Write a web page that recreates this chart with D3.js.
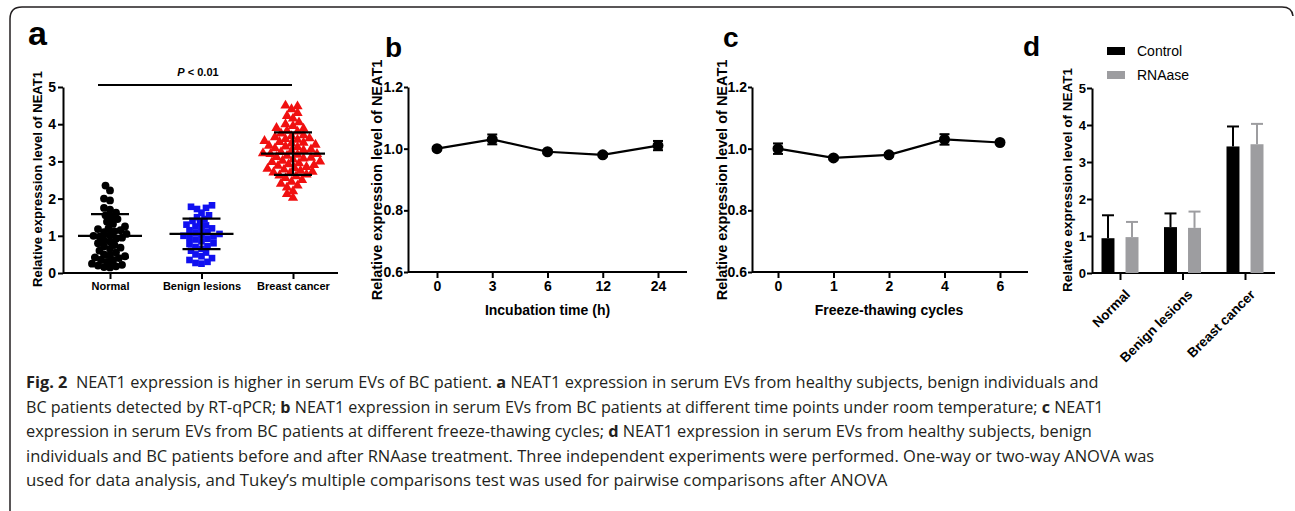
<html>
    <head>
        <title>NEAT1 expression in serum EVs</title>
        <script type="text/javascript" src="https://cdn.jsdelivr.net/npm/d3@7"></script>
        <style type="text/css">
            body { margin: 0; background: white; }
            svg text { font-family: "Liberation Sans", Arial, sans-serif; }
            .axis path, .axis line { stroke: black; stroke-width: 2px; }
            .axis text { font-weight: bold; fill: black; }
            .caption text { font-family: "Open Sans", sans-serif; font-size: 16.5px; fill: #231f20; }
        </style>
    </head>
    <body>
        <div id='chartholder'></div>

        <script type="text/javascript">

            // panel a: individual values
            var groups = ['Normal', 'Benign lesions', 'Breast cancer'];
            var normalValues = [2.35, 2.22, 2.0, 1.95, 1.75, 1.7, 1.62, 1.55, 1.5, 1.45, 1.38, 1.32, 1.25, 1.2, 1.18,
                1.15, 1.12, 1.1, 1.05, 1.02, 1.0, 0.98, 0.95, 0.92, 0.88, 0.85, 0.8, 0.75, 0.72, 0.68, 0.65, 0.6,
                0.55, 0.5, 0.48, 0.45, 0.42, 0.4, 0.35, 0.32, 0.3, 0.25, 0.22, 0.2, 0.18, 0.16, 0.15];
            var benignValues = [1.82, 1.78, 1.75, 1.72, 1.62, 1.55, 1.5, 1.45, 1.4, 1.35, 1.3, 1.28, 1.25, 1.2, 1.18,
                1.15, 1.1, 1.08, 1.05, 1.02, 1.0, 0.98, 0.95, 0.92, 0.9, 0.85, 0.8, 0.78, 0.72, 0.7, 0.65, 0.6,
                0.55, 0.5, 0.45, 0.4, 0.35, 0.3, 0.27, 0.25];
            var cancerValues = [4.5, 4.48, 4.4, 4.3, 4.22, 4.15, 4.05, 4.0, 3.95, 3.9, 3.88, 3.82, 3.8, 3.75, 3.7,
                3.68, 3.65, 3.62, 3.6, 3.58, 3.55, 3.52, 3.5, 3.48, 3.45, 3.42, 3.4, 3.38, 3.35, 3.32, 3.3, 3.28,
                3.25, 3.22, 3.2, 3.2, 3.18, 3.15, 3.12, 3.1, 3.08, 3.05, 3.02, 3.0, 2.98, 2.95, 2.92, 2.9, 2.88,
                2.85, 2.82, 2.8, 2.78, 2.75, 2.72, 2.7, 2.68, 2.65, 2.62, 2.6, 2.55, 2.5, 2.45, 2.4, 2.35, 2.3,
                2.2, 2.12, 2.02];
            var groupMeans = [1.0, 1.05, 3.21];
            var groupSD = [0.58, 0.41, 0.57];
            var groupColors = ['black', '#1010f0', '#f01010'];

            // panel b: incubation time
            var incubationHours = ['0', '3', '6', '12', '24'];
            var incubationMeans = [1.00, 1.03, 0.99, 0.98, 1.01];
            var incubationErr = [0.005, 0.016, 0.005, 0.005, 0.015];

            // panel c: freeze-thawing cycles
            var freezeCycles = ['0', '1', '2', '4', '6'];
            var freezeMeans = [1.00, 0.97, 0.98, 1.03, 1.02];
            var freezeErr = [0.017, 0.005, 0.005, 0.017, 0.005];

            // panel d: control vs RNAase
            var treatments = ['Control', 'RNAase'];
            var controlMeans = [0.94, 1.24, 3.42];
            var controlErr = [0.62, 0.37, 0.54];
            var rnaaseMeans = [0.97, 1.22, 3.48];
            var rnaaseErr = [0.41, 0.44, 0.55];

            var captionLines = [
                [['Fig. 2', true], ['  NEAT1 expression is higher in serum EVs of BC patient. ', false], ['a', true], [' NEAT1 expression in serum EVs from healthy subjects, benign individuals and', false]],
                [['BC patients detected by RT-qPCR; ', false], ['b', true], [' NEAT1 expression in serum EVs from BC patients at different time points under room temperature; ', false], ['c', true], [' NEAT1', false]],
                [['expression in serum EVs from BC patients at different freeze-thawing cycles; ', false], ['d', true], [' NEAT1 expression in serum EVs from healthy subjects, benign', false]],
                [['individuals and BC patients before and after RNAase treatment. Three independent experiments were performed. One-way or two-way ANOVA was', false]],
                [['used for data analysis, and Tukey\u2019s multiple comparisons test was used for pairwise comparisons after ANOVA', false]]
            ];
            var captionEnds = [1100, 1105, 1093, 1155, 888];

            var yTitle = 'Relative expression level of NEAT1';

            var svg = d3.select('#chartholder').append('svg')
                .attr('width', 1295)
                .attr('height', 511);

            // frame with rounded top corners
            svg.append('path')
                .attr('d', 'M10,511 L10,19 Q10,7 22,7 L1282,7 Q1292,7 1293,16')
                .attr('fill', 'none')
                .attr('stroke', '#231f20')
                .attr('stroke-width', 1.5);

            function panelLetter(x, y, t, size) {
                svg.append('text').attr('x', x).attr('y', y)
                    .style('font-size', size + 'px').style('font-weight', 'bold')
                    .text(t);
            }

            function rotatedTitle(x, y, size) {
                svg.append('text')
                    .attr('transform', 'translate(' + x + ',' + y + ') rotate(-90)')
                    .attr('text-anchor', 'middle')
                    .style('font-size', size + 'px').style('font-weight', 'bold')
                    .text(yTitle);
            }

            // simple deterministic swarm: place each value at the smallest offset without collision
            function swarm(values, yScale, minDist) {
                var placed = [];
                values.slice().sort(function(a, b) { return a - b; }).forEach(function(v) {
                    var y = yScale(v);
                    for (var k = 0; k < 200; k++) {
                        var dx = (k % 2 === 0 ? 1 : -1) * Math.ceil(k / 2) * 1.5;
                        var ok = placed.every(function(p) {
                            return Math.hypot(p.dx - dx, p.y - y) >= minDist;
                        });
                        if (ok) { placed.push({v: v, y: y, dx: dx}); break; }
                    }
                });
                return placed;
            }

            // ---------- panel a ----------
            panelLetter(28, 45, 'a', 34);
            rotatedTitle(42, 179, 13);

            var xA = d3.scalePoint().domain(groups).range([110, 293]);
            var yA = d3.scaleLinear().domain([0, 5]).range([273, 87]);

            svg.append('g').attr('class', 'axis')
                .attr('transform', 'translate(63,0)')
                .call(d3.axisLeft(yA).ticks(5).tickSize(5).tickPadding(2).tickSizeOuter(0))
                .selectAll('text').style('font-size', '14px');
            var axA = svg.append('g').attr('class', 'axis')
                .attr('transform', 'translate(0,273)')
                .call(d3.axisBottom(xA).tickSize(6).tickSizeOuter(0));
            axA.select('.domain').attr('d', 'M63,0H338');
            axA.selectAll('text').style('font-size', '11px');

            var symbolTypes = [d3.symbolCircle, d3.symbolSquare, d3.symbolTriangle];
            var symbolSizes = [48, 44, 46];
            var swarmDist = [5.8, 5.8, 6.4];
            [normalValues, benignValues, cancerValues].forEach(function(vals, i) {
                var pts = swarm(vals, yA, swarmDist[i]);
                svg.append('g').selectAll('path')
                    .data(pts)
                    .enter().append('path')
                        .attr('d', d3.symbol().type(symbolTypes[i]).size(symbolSizes[i]))
                        .attr('transform', function(d) { return 'translate(' + (xA(groups[i]) + d.dx) + ',' + d.y + ')'; })
                        .attr('fill', groupColors[i]);
            });

            groups.forEach(function(g, i) {
                var cx = xA(g), m = groupMeans[i], s = groupSD[i];
                var eg = svg.append('g').attr('stroke', 'black').attr('stroke-width', 2.2);
                eg.append('line').attr('x1', cx).attr('x2', cx).attr('y1', yA(m - s)).attr('y2', yA(m + s));
                eg.append('line').attr('x1', cx - 32).attr('x2', cx + 32).attr('y1', yA(m)).attr('y2', yA(m));
                [m - s, m + s].forEach(function(v) {
                    eg.append('line').attr('x1', cx - 19).attr('x2', cx + 19).attr('y1', yA(v)).attr('y2', yA(v));
                });
            });

            svg.append('line').attr('x1', 98).attr('x2', 292).attr('y1', 85).attr('y2', 85)
                .attr('stroke', 'black').attr('stroke-width', 2);
            var pText = svg.append('text').attr('x', 198).attr('y', 76).attr('text-anchor', 'middle')
                .style('font-size', '11px').style('font-weight', 'bold');
            pText.append('tspan').style('font-style', 'italic').text('P');
            pText.append('tspan').text(' < 0.01');

            // ---------- panels b and c ----------
            function linePanel(opts) {
                var x = d3.scalePoint().domain(opts.cats).range(opts.xRange);
                var y = d3.scaleLinear().domain([0.6, 1.2]).range([272, 87]);

                svg.append('g').attr('class', 'axis')
                    .attr('transform', 'translate(' + opts.axisX + ',0)')
                    .call(d3.axisLeft(y).tickValues([0.6, 0.8, 1.0, 1.2]).tickFormat(d3.format('.1f'))
                        .tickSize(4).tickPadding(1).tickSizeOuter(0))
                    .selectAll('text').style('font-size', '14px');
                var ax = svg.append('g').attr('class', 'axis')
                    .attr('transform', 'translate(0,272)')
                    .call(d3.axisBottom(x).tickSize(6).tickSizeOuter(0));
                ax.select('.domain').attr('d', 'M' + opts.axisX + ',0H' + opts.axisEnd);
                ax.selectAll('text').style('font-size', '14px');

                var pts = opts.cats.map(function(c, i) { return {c: c, m: opts.means[i], e: opts.err[i]}; });

                svg.append('path').datum(pts)
                    .attr('d', d3.line().x(function(d) { return x(d.c); }).y(function(d) { return y(d.m); }))
                    .attr('fill', 'none').attr('stroke', 'black').attr('stroke-width', 2.2);

                var eb = svg.append('g').attr('stroke', 'black').attr('stroke-width', 2);
                pts.forEach(function(d) {
                    var cx = x(d.c);
                    eb.append('line').attr('x1', cx).attr('x2', cx).attr('y1', y(d.m - d.e)).attr('y2', y(d.m + d.e));
                    [d.m - d.e, d.m + d.e].forEach(function(v) {
                        eb.append('line').attr('x1', cx - 5).attr('x2', cx + 5).attr('y1', y(v)).attr('y2', y(v));
                    });
                });

                svg.append('g').selectAll('circle')
                    .data(pts)
                    .enter().append('circle')
                        .attr('cx', function(d) { return x(d.c); })
                        .attr('cy', function(d) { return y(d.m); })
                        .attr('r', 5.5)
                        .attr('fill', 'black');

                svg.append('text').attr('x', (opts.xRange[0] + opts.xRange[1]) / 2).attr('y', 315)
                    .attr('text-anchor', 'middle')
                    .style('font-size', '14px').style('font-weight', 'bold')
                    .text(opts.title);
            }

            panelLetter(385, 57, 'b', 28);
            rotatedTitle(382, 180, 14.5);
            linePanel({cats: incubationHours, means: incubationMeans, err: incubationErr,
                xRange: [437, 658], axisX: 408, axisEnd: 687, title: 'Incubation time (h)'});

            panelLetter(723, 47, 'c', 28);
            rotatedTitle(727, 180, 14.5);
            linePanel({cats: freezeCycles, means: freezeMeans, err: freezeErr,
                xRange: [778, 1000], axisX: 752, axisEnd: 1028, title: 'Freeze-thawing cycles'});

            // ---------- panel d ----------
            panelLetter(1023, 56, 'd', 28);
            rotatedTitle(1072, 180, 13.5);

            var x0 = d3.scalePoint().domain(groups).range([1120, 1245]);
            var x1 = d3.scaleBand().domain(treatments).range([-18.5, 18.5]).paddingInner(0.46);
            var yD = d3.scaleLinear().domain([0, 5]).range([273, 88]);
            var barColors = {Control: 'black', RNAase: '#9d9da0'};

            svg.append('g').attr('class', 'axis')
                .attr('transform', 'translate(1092,0)')
                .call(d3.axisLeft(yD).ticks(5).tickSize(5).tickPadding(1).tickSizeOuter(0))
                .selectAll('text').style('font-size', '13px');
            var axD = svg.append('g').attr('class', 'axis')
                .attr('transform', 'translate(0,273)')
                .call(d3.axisBottom(x0).tickSize(7).tickSizeOuter(0));
            axD.select('.domain').attr('d', 'M1092,0H1275');
            axD.selectAll('text')
                .style('font-size', '13.5px')
                .attr('text-anchor', 'end')
                .attr('dy', '0.35em')
                .attr('transform', 'translate(0,12) rotate(-45)');

            var barData = [];
            groups.forEach(function(g, i) {
                barData.push({g: g, t: 'Control', m: controlMeans[i], e: controlErr[i]});
                barData.push({g: g, t: 'RNAase', m: rnaaseMeans[i], e: rnaaseErr[i]});
            });

            var errD = svg.append('g');
            barData.forEach(function(d) {
                var cx = x0(d.g) + x1(d.t) + x1.bandwidth() / 2;
                errD.append('line').attr('x1', cx).attr('x2', cx).attr('y1', yD(d.m)).attr('y2', yD(d.m + d.e))
                    .attr('stroke', barColors[d.t]).attr('stroke-width', 2);
                errD.append('line').attr('x1', cx - 6).attr('x2', cx + 6).attr('y1', yD(d.m + d.e)).attr('y2', yD(d.m + d.e))
                    .attr('stroke', barColors[d.t]).attr('stroke-width', 2);
            });

            svg.append('g').selectAll('rect')
                .data(barData)
                .enter().append('rect')
                    .attr('x', function(d) { return x0(d.g) + x1(d.t); })
                    .attr('y', function(d) { return yD(d.m); })
                    .attr('width', x1.bandwidth())
                    .attr('height', function(d) { return yD(0) - yD(d.m); })
                    .attr('fill', function(d) { return barColors[d.t]; });

            var legend = svg.append('g').selectAll('g')
                .data(treatments)
                .enter().append('g')
                    .attr('transform', function(d, i) { return 'translate(1107,' + (47 + i * 24) + ')'; });
            legend.append('rect').attr('width', 18).attr('height', 8)
                .attr('fill', function(d) { return barColors[d]; });
            legend.append('text').attr('x', 30).attr('y', 4).attr('dy', '0.35em')
                .style('font-size', '14px')
                .text(function(d) { return d; });

            // ---------- caption ----------
            // each line is stretched/squeezed horizontally to the width it has in the figure
            var cap = svg.append('g').attr('class', 'caption');
            captionLines.forEach(function(parts, i) {
                var t = cap.append('text')
                    .attr('x', 0)
                    .attr('y', 0)
                    .attr('xml:space', 'preserve');
                parts.forEach(function(p) {
                    t.append('tspan').style('font-weight', p[1] ? 'bold' : 'normal').text(p[0]);
                });
                var w = t.node().getComputedTextLength();
                var sx = (captionEnds[i] - 26) / w;
                t.attr('transform', 'translate(26,' + (388 + i * 24.6) + ') scale(' + sx + ',1)');
            });

        </script>
    </body>
</html>
